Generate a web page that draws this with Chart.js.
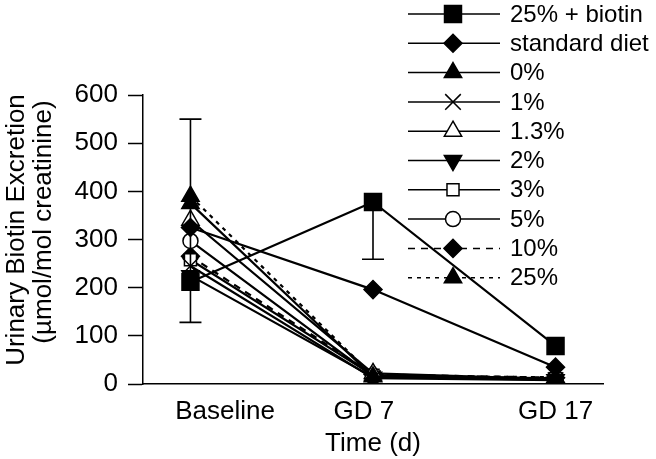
<!DOCTYPE html>
<html>
<head>
<meta charset="utf-8">
<script src="https://cdn.jsdelivr.net/npm/chart.js@4/dist/chart.umd.min.js"></script>
<style>
  html, body { margin: 0; padding: 0; background: #fff; }
  #wrap { width: 656px; height: 459px; }
</style>
</head>
<body>
<div id="wrap"><canvas id="chart" width="656" height="459"></canvas></div>
<script>
// time points
const timeLabels = ['Baseline', 'GD 7', 'GD 17'];

// urinary biotin excretion, µmol/mol creatinine
const biotin25 = [212, 378, 79];
const standardDiet = [325, 196, 35];
const egg0 = [375, 15, 12];
const egg1 = [245, 12, 8];
const egg1_3 = [340, 22, 10];
const egg2 = [225, 14, 9];
const egg3 = [258, 18, 11];
const egg5 = [297, 16, 10];
const egg10 = [265, 20, 13];
const egg25 = [390, 17, 14];

// error bar ends for the 25% + biotin group (null = not drawn)
const biotinErrLow = [128, 259, null];
const biotinErrHigh = [550, null, null];

const seriesNames = ['25% + biotin', 'standard diet', '0%', '1%', '1.3%', '2%', '3%', '5%', '10%', '25%'];
const yTitle = ['Urinary Biotin Excretion', '(\u00b5mol/mol creatinine)'];

const FONT = "'Liberation Sans', Arial, Helvetica, sans-serif";

function series(label, data, style, radius, fill, extra) {
    return Object.assign({
        label: label,
        data: data.map((v, i) => ({ x: i, y: v })),
        borderColor: '#000',
        borderWidth: 2.2,
        pointStyle: style,
        pointRadius: radius,
        pointBorderColor: '#000',
        pointBorderWidth: 1.5,
        pointBackgroundColor: fill,
        backgroundColor: fill,
        pointRotation: 0,
        tension: 0
    }, extra || {});
}

const datasets = [
    series(seriesNames[0], biotin25, 'rect', 12, '#000'),
    series(seriesNames[1], standardDiet, 'rectRot', 9, '#000'),
    series(seriesNames[2], egg0, 'triangle', 10, '#000'),
    series(seriesNames[3], egg1, 'crossRot', 11, '#000'),
    series(seriesNames[4], egg1_3, 'triangle', 10, '#fff'),
    series(seriesNames[5], egg2, 'triangle', 10, '#000', { pointRotation: 180 }),
    series(seriesNames[6], egg3, 'rect', 8.5, '#fff'),
    series(seriesNames[7], egg5, 'circle', 7.5, '#fff'),
    series(seriesNames[8], egg10, 'rectRot', 9, '#000', { borderDash: [7, 6] }),
    series(seriesNames[9], egg25, 'triangle', 10, '#000', { borderDash: [4, 5] })
];

// error bars for the first series
const errorBars = {
    id: 'errorBars',
    afterDatasetsDraw(chart) {
        const ctx = chart.ctx;
        const xs = chart.scales.x, ys = chart.scales.y;
        ctx.save();
        ctx.strokeStyle = '#000';
        ctx.lineWidth = 1.6;
        biotin25.forEach((v, i) => {
            const px = xs.getPixelForValue(i);
            [biotinErrLow[i], biotinErrHigh[i]].forEach(e => {
                if (e === null) return;
                const py = ys.getPixelForValue(e);
                ctx.beginPath();
                ctx.moveTo(px, ys.getPixelForValue(v));
                ctx.lineTo(px, py);
                ctx.moveTo(px - 11, py);
                ctx.lineTo(px + 11, py);
                ctx.stroke();
            });
        });
        ctx.restore();
    }
};

// legend with line + marker, like the original figure
const lineLegend = {
    id: 'lineLegend',
    afterDraw(chart) {
        const ctx = chart.ctx;
        ctx.save();
        chart.data.datasets.forEach((ds, i) => {
            const y = 14 + i * 29.3;
            ctx.strokeStyle = '#000';
            ctx.lineWidth = 1.5;
            ctx.setLineDash(ds.borderDash || []);
            ctx.beginPath();
            ctx.moveTo(408, y);
            ctx.lineTo(500, y);
            ctx.stroke();
            ctx.setLineDash([]);
            ctx.fillStyle = ds.pointBackgroundColor;
            ctx.strokeStyle = '#000';
            ctx.lineWidth = 1.5;
            Chart.helpers.drawPoint(ctx, {
                pointStyle: ds.pointStyle,
                radius: ds.pointRadius,
                rotation: ds.pointRotation,
                borderWidth: 1.5
            }, 453, y);
            ctx.fillStyle = '#000';
            ctx.font = '24px ' + FONT;
            ctx.textBaseline = 'middle';
            ctx.textAlign = 'left';
            ctx.fillText(ds.label, 510, y + 1);
        });
        ctx.restore();
    }
};

// two-line rotated y title, lines not centred on each other in the original
const yTitlePlugin = {
    id: 'yTitlePlugin',
    afterDraw(chart) {
        const ctx = chart.ctx;
        ctx.save();
        ctx.fillStyle = '#000';
        ctx.font = '26px ' + FONT;
        ctx.textAlign = 'center';
        ctx.textBaseline = 'middle';
        [[17, 230], [44, 222]].forEach((p, i) => {
            ctx.save();
            ctx.translate(p[0], p[1]);
            ctx.rotate(-Math.PI / 2);
            ctx.fillText(yTitle[i], 0, 0);
            ctx.restore();
        });
        ctx.restore();
    }
};

const xLabelAt = [0.19, 0.95, 2.0];

new Chart(document.getElementById('chart'), {
    type: 'line',
    data: { datasets: datasets },
    options: {
        responsive: false,
        animation: false,
        layout: { padding: { left: 0, top: 95, right: 53, bottom: 0 } },
        plugins: {
            legend: { display: false },
            tooltip: { enabled: false }
        },
        scales: {
            x: {
                type: 'linear',
                min: -0.26,
                max: 2.26,
                afterBuildTicks: axis => { axis.ticks = xLabelAt.map(v => ({ value: v })); },
                afterFit: s => { s.height = 75; },
                ticks: {
                    color: '#000',
                    font: { family: FONT, size: 26 },
                    padding: 12,
                    maxRotation: 0,
                    autoSkip: false,
                    callback: (v, i) => timeLabels[i]
                },
                grid: { display: false, drawTicks: false },
                border: { color: '#000', width: 1.5 },
                title: {
                    display: true,
                    text: 'Time (d)',
                    color: '#000',
                    font: { family: FONT, size: 26, lineHeight: 1 },
                    padding: { top: 0, bottom: 2 }
                }
            },
            y: {
                min: 0,
                max: 600,
                afterFit: s => { s.width = 143; },
                ticks: {
                    stepSize: 100,
                    color: '#000',
                    font: { family: FONT, size: 26 },
                    padding: 10
                },
                grid: {
                    drawOnChartArea: false,
                    tickLength: 15,
                    tickColor: '#000',
                    tickWidth: 1.5
                },
                border: { color: '#000', width: 1.5 }
            }
        }
    },
    plugins: [errorBars, lineLegend, yTitlePlugin]
});
</script>
</body>
</html>
